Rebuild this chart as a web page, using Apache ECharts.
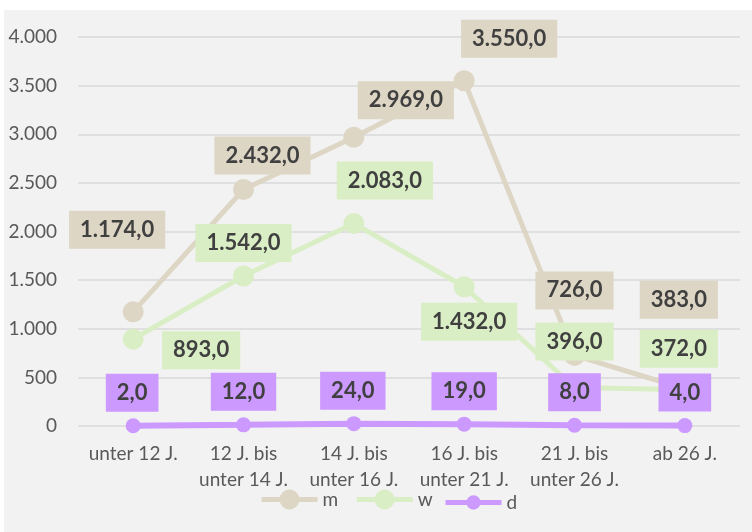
<!DOCTYPE html>
<html>
<head>
<meta charset="utf-8">
<script src="https://cdn.jsdelivr.net/npm/echarts@6/dist/echarts.min.js"></script>
<style>
html,body{margin:0;padding:0;background:#ffffff;}
#wrap{position:absolute;left:4px;top:10px;width:748px;height:522px;background:#f2f2f2;}
#chart{width:748px;height:522px;}
</style>
</head>
<body>
<div id="wrap"><div id="chart"></div></div>
<script>
// ---- data ----
const categories = ['unter 12 J.', '12 J. bis\nunter 14 J.', '14 J. bis\nunter 16 J.', '16 J. bis\nunter 21 J.', '21 J. bis\nunter 26 J.', 'ab 26 J.'];
const seriesNames = ['m', 'w', 'd'];
const mValues = [1174, 2432, 2969, 3550, 726, 383];
const wValues = [893, 1542, 2083, 1432, 396, 372];
const dValues = [2, 12, 24, 19, 8, 4];
const yTicks = [0, 500, 1000, 1500, 2000, 2500, 3000, 3500, 4000];

// ---- label placement (styling, px offsets from point) ----
const mOffsets = [[-16, -82], [19, -34], [52, -37], [45, -42], [0, -65], [-6, -89]];
const wOffsets = [[68, 11], [0, -33], [31, -43], [5, 35], [0, -46], [-6, -41]];
const dOffsets = [[-1, -33], [0, -33], [-1, -33], [0, -33], [0, -33], [0, -33]];

const colors = { m: '#ded6c5', w: '#d9eec4', d: '#cc99ff' };

function deNum(v, dec) {
  const fixed = Number(v).toFixed(dec);
  let [intPart, fracPart] = fixed.split('.');
  intPart = intPart.replace(/\B(?=(\d{3})+(?!\d))/g, '.');
  return fracPart !== undefined ? intPart + ',' + fracPart : intPart;
}

function buildData(values, offsets) {
  return values.map((v, i) => ({ value: v, label: { offset: offsets[i] } }));
}

function mkSeries(name, values, offsets, color, symbolSize, width) {
  return {
    name: name,
    type: 'line',
    data: buildData(values, offsets),
    symbol: 'circle',
    symbolSize: symbolSize,
    lineStyle: { color: color, width: width },
    itemStyle: { color: color },
    label: {
      show: true,
      position: 'inside',
      formatter: p => deNum(p.value, 1),
      backgroundColor: color,
      padding: [7, 11],
      fontFamily: 'Lato',
      fontWeight: 'bold',
      fontSize: 22,
      lineHeight: 24,
      color: '#404040'
    },
    emphasis: { disabled: true },
    animation: false
  };
}

const legendCommon = {
  orient: 'horizontal',
  padding: 0,
  itemWidth: 56,
  itemGap: 16,
  lineStyle: { width: 5 },
  textStyle: { color: '#595959', fontFamily: 'Lato', fontSize: 19 }
};

const chart = echarts.init(document.getElementById('chart'), null, { renderer: 'canvas' });
chart.setOption({
  backgroundColor: '#f2f2f2',
  animation: false,
  grid: { left: 74, right: 12, top: 27, bottom: 106, containLabel: false },
  xAxis: {
    type: 'category',
    data: categories,
    boundaryGap: true,
    axisLine: { show: false },
    axisTick: { show: false },
    axisLabel: {
      color: '#595959', fontFamily: 'Lato', fontSize: 19, lineHeight: 26, margin: 15, interval: 0
    },
    splitLine: { show: false }
  },
  yAxis: {
    type: 'value',
    min: yTicks[0],
    max: yTicks[yTicks.length - 1],
    interval: yTicks[1] - yTicks[0],
    axisLine: { show: false },
    axisTick: { show: false },
    axisLabel: {
      color: '#595959', fontFamily: 'Lato', fontSize: 19, margin: 21,
      formatter: v => deNum(v, 0)
    },
    splitLine: { lineStyle: { color: '#d9d9d9', width: 1.5 } }
  },
  legend: [
    Object.assign({}, legendCommon, { data: seriesNames.slice(0, 2), left: 255, top: 479.5, itemHeight: 25 }),
    Object.assign({}, legendCommon, { data: seriesNames.slice(2), left: 439, top: 483, itemHeight: 18 })
  ],
  series: [
    mkSeries('m', mValues, mOffsets, colors.m, 21, 5),
    mkSeries('w', wValues, wOffsets, colors.w, 21, 5),
    mkSeries('d', dValues, dOffsets, colors.d, 15, 6)
  ]
});
</script>
</body>
</html>
